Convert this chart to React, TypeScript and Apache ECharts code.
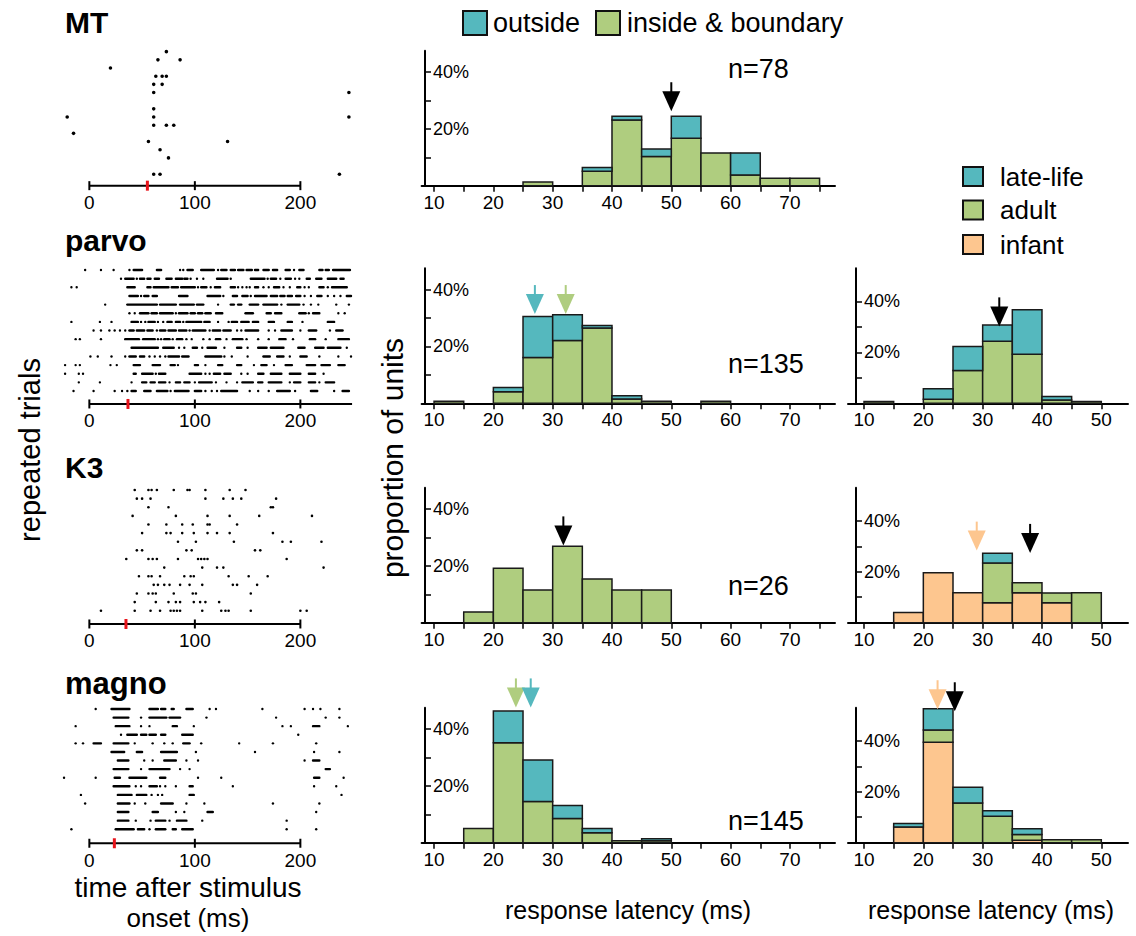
import React, { useEffect, useRef } from "react";
import * as echarts from "echarts";

const FONT = "'Liberation Sans', Arial, Helvetica, sans-serif";
const TEAL = "#55b8be";
const GREEN = "#afcd7f";
const ORANGE = "#fdc68f";
const RED = "#e8141b";

// ---------- histogram data (percent of units per 5 ms bin) ----------
const midBins = [10, 15, 20, 25, 30, 35, 40, 45, 50, 55, 60, 65, 70];
const rightBins = [10, 15, 20, 25, 30, 35, 40, 45];
const binWidth = 5;
const midTicks = [10, 15, 20, 25, 30, 35, 40, 45, 50, 55, 60, 65, 70, 75];
const midLabels = [10, 20, 30, 40, 50, 60, 70];
const rightTicks = [10, 15, 20, 25, 30, 35, 40, 45, 50];
const rightLabels = [10, 20, 30, 40, 50];
const pctTicks = [10, 20, 30, 40];
const pctLabels = [20, 40];

const mtInside = [0, 0, 0, 1.3, 0, 5.1, 23.1, 10.3, 16.7, 11.5, 3.8, 2.6, 2.6];
const mtOutside = [0, 0, 0, 0, 0, 1.3, 1.3, 2.6, 7.7, 0, 7.7, 0, 0];
const parvoInside = [0.7, 0, 4.1, 16.1, 22.1, 26.5, 1.5, 0.7, 0, 0.7, 0, 0, 0];
const parvoOutside = [0, 0, 1.5, 14.4, 9.1, 0.9, 1.2, 0, 0, 0, 0, 0, 0];
const k3Inside = [0, 3.8, 19.2, 11.5, 26.9, 15.4, 11.5, 11.5, 0, 0, 0, 0, 0];
const k3Outside = [0, 0, 0, 0, 0, 0, 0, 0, 0, 0, 0, 0, 0];
const magnoInside = [0, 5.0, 35.2, 14.5, 8.5, 3.5, 0.7, 0.7, 0, 0, 0, 0, 0];
const magnoOutside = [0, 0, 11.1, 14.6, 4.6, 1.5, 0, 0.7, 0, 0, 0, 0, 0];

const parvoInfant = [0, 0, 0, 0, 0, 0, 0, 0];
const parvoAdult = [0.7, 0, 1.6, 12.9, 24.4, 19.3, 1.3, 0.7];
const parvoLate = [0, 0, 4.1, 9.4, 6.3, 17.4, 1.4, 0];
const k3Infant = [0, 4.0, 19.6, 11.8, 7.8, 11.8, 7.8, 0];
const k3Adult = [0, 0, 0, 0, 15.6, 3.9, 3.9, 11.8];
const k3Late = [0, 0, 0, 0, 3.9, 0, 0, 0];
const magnoInfant = [0, 6.2, 39.4, 0, 0, 1.0, 0, 0];
const magnoAdult = [0, 0, 4.8, 15.6, 10.4, 2.2, 1.2, 1.2];
const magnoLate = [0, 1.3, 8.4, 6.2, 2.1, 2.3, 0, 0];

// median-latency arrows: [latency ms, arrow tip (%), group]
const mtArrows: [number, number, string][] = [[50, 26.2, "all"]];
const parvoArrows: [number, number, string][] = [[27.0, 31.4, "outside"], [32.2, 31.4, "inside"]];
const k3Arrows: [number, number, string][] = [[31.8, 27.2, "all"]];
const magnoArrows: [number, number, string][] = [[23.8, 47.6, "inside"], [26.3, 47.6, "outside"]];
const parvoAgeArrows: [number, number, string][] = [[32.8, 30.2, "all"]];
const k3AgeArrows: [number, number, string][] = [[29.0, 28.3, "infant"], [38.0, 27.4, "all"]];
const magnoAgeArrows: [number, number, string][] = [[22.4, 52.4, "infant"], [25.3, 51.6, "all"]];

const mtN = "n=78";
const parvoN = "n=135";
const k3N = "n=26";
const magnoN = "n=145";

// ---------- raster data (spike times in ms; [a,b] = burst) top trial first ----------
type Entry = number | [number, number];
const mtTrials: Entry[][] = [
  [73], [65, 86], [20], [63, 69, 73], [61, 69], [61, 246], [], [61],
  [-21, 61, 246], [61, 73, 80], [-15], [56, 131], [67], [75], [], [61, 67, 237],
];
const parvoTrials: Entry[][] = [
  [-4, 11, 23, 38, [42, 50], [64, 68], 86, 89, [93, 98], [106, 118], 122, [125, 130], [134, 138], [141, 146], [149, 154], [157, 160], [165, 170], [174, 178], [186, 190], 194, [199, 203], [218, 221], [224, 227], [231, 247]],
  [30, [34, 42], 45, [48, 52], [55, 58], [62, 66], [73, 78], [82, 88], [90, 93], 96, 102, 108, [121, 131], 134, [153, 166], 169, [172, 177], 181, [186, 191], 195, 199, [206, 209], [215, 220], [226, 234], [238, 241]],
  [-17, -12, [36, 43], [55, 58], [61, 75], [78, 84], [87, 100], 103, [106, 111], 115, [119, 124], [134, 138], 141, 145, 149, 152, [157, 160], 165, 170, [175, 180], 184, 190, [197, 200], 204, 208, [218, 222], 226, [230, 244]],
  [[38, 46], 49, [52, 56], [60, 64], [85, 93], [112, 124], 127, [136, 140], [145, 150], 153, [157, 168], [172, 178], [181, 185], [188, 192], [196, 200], 204, 210, [216, 220], 226, 232, 238, [244, 248]],
  [15, [36, 64], [67, 82], [86, 99], [102, 108], 122, [134, 137], [141, 144], [152, 160], [165, 178], 182, [188, 199], 203, 210, 217, 234, 246],
  [38, 43, [48, 56], [59, 64], [67, 79], 82, [85, 93], [96, 100], [103, 107], [110, 115], [120, 126], [148, 155], [168, 172], [176, 182], [199, 205], 208, [212, 218], 236, 242],
  [-17, 10, 21, [40, 46], 49, 53, [56, 62], 65, 70, [74, 78], [82, 86], 89, [92, 106], [109, 114], 122, 132, [135, 140], [144, 151], [155, 160], [170, 175], [188, 192], 202, [226, 232]],
  [4, 11, 19, 24, 29, 34, [38, 42], [45, 52], [55, 60], 64, [67, 72], [75, 82], [85, 92], 95, [98, 110], 114, [117, 124], [127, 134], 140, 144, [148, 160], 170, 176, [182, 192], 200, [208, 215], 228, [234, 240]],
  [-13, -9, 11, [34, 47], [51, 62], 65, 68, [71, 76], 79, [83, 88], 92, 97, 108, 114, [120, 124], 130, [136, 145], 149, 160, 170, [180, 186], 193, [209, 214], 224, [236, 246]],
  [[40, 65], [70, 80], 85, 90, [98, 102], 107, [112, 120], 128, [140, 144], 150, [160, 168], [172, 184], [198, 204], [214, 222], [226, 238], 244],
  [1, 8, 21, 34, [38, 44], [48, 52], 57, 62, 67, 72, [75, 85], [88, 94], [110, 125], 128, 135, 150, [165, 171], [178, 184], 190, [200, 206], 218, 236, 248],
  [-23, -13, -9, 20, 26, [42, 48], [60, 67], [77, 81], 84, [100, 103], 110, [122, 126], [140, 144], 156, [163, 168], 175, [186, 192], [206, 214], [220, 228], [236, 242]],
  [-23, -10, -6, [42, 44], [50, 60], 63, [66, 72], [95, 106], 110, 114, [118, 124], [128, 134], 144, 150, [160, 165], [172, 182], [190, 200], [208, 214], 222],
  [-10, 10, 40, [50, 54], [58, 62], [66, 72], 76, [82, 86], [90, 95], 100, [104, 116], 120, 130, 140, [145, 155], [160, 164], [170, 182], 190, [194, 200], [208, 214], 218, [224, 232]],
  [-15, 4, 24, 31, 36, [40, 44], [52, 58], [64, 74], 77, [81, 94], [100, 106], 110, 116, 121, [125, 140], 152, 160, 170, [178, 190], 195, [210, 216], 232, [240, 246]],
];
const k3Trials: Entry[][] = [
  [43, 56, 59, 64, 80, 93, 95, 110, 133, 148],
  [45, 50, 58, 110, 127, 136, 144, 177],
  [56, 75, 172, 174],
  [41, 82, 112, 133, 161, 211],
  [56, 73, 88, 98, 112, 114, 140],
  [50, 73, 77, 88, 99, 112, 121, 133, 174],
  [84, 101, 137, 183, 191, 220],
  [45, 50, 92, 97, 157, 162],
  [35, 56, 60, 64, 84, 103, 106, 109, 112, 187],
  [71, 107, 121, 127, 222],
  [47, 56, 59, 67, 90, 96, 99, 132, 151, 169],
  [61, 65, 71, 76, 86, 95, 107, 136, 140, 159],
  [45, 56, 60, 63, 80, 98, 101, 153],
  [43, 63, 75, 82, 86, 99, 105, 110, 123],
  [11, 43, 58, 67, 77, 80, 83, 86, 107, 125, 129, 132, 153, 200, 206],
];
const magnoTrials: Entry[][] = [
  [6, [21, 38], [57, 65], [68, 72], [78, 80], [92, 98], 114, 120, 164, 204, 212, 219, 237],
  [[23, 37], 49, [57, 73], [76, 86], 111, 177, 224, 237],
  [-13, [25, 38], 49, 57, [79, 83], 99, 183, 191, [212, 218], 245],
  [30, [36, 45], [49, 54], [57, 63], [68, 72], [88, 98], 198],
  [-13, -6, [4, 11], [23, 37], 43, 60, 71, 79, [89, 95], 106, 142, 174, 215],
  [[21, 33], [45, 50], [68, 83], 101, 157, 213, 237],
  [[27, 37], 52, 60, [71, 82], 92, 103, 204, [212, 218]],
  [[23, 37], 49, [57, 76], 86, 95, [224, 228]],
  [-24, 6, [24, 29], [38, 54], [67, 72], 103, 125, [213, 218], 241],
  [[23, 38], 44, 49, [57, 64], 67, 72, 82, [95, 98], 136, 213, 234],
  [-8, [27, 40], [45, 54], 59, 65, 69, [95, 99], 239],
  [-4, [27, 38], 43, 53, [68, 79], 92, 109, 174, 218],
  [[27, 37], [60, 65], 82, 90, [112, 117], 215],
  [[27, 37], 44, 58, [63, 72], 76, [83, 92], 107, 187],
  [-17, [25, 42], [46, 52], 57, [63, 72], [79, 82], [88, 98], 187, 215],
];
const rasterTicks = [0, 100, 200];
const mtLatency = 55;
const parvoLatency = 36.6;
const k3Latency = 34.7;
const magnoLatency = 23.7;
const mtAxisEnd = 200;
const parvoAxisEnd = 249;
const k3AxisEnd = 200;
const magnoAxisEnd = 200;

// ---------- layout ----------
const RASTER_X = { left: 57.7, width: 300.7, min: -30, max: 255 };
const MID_X = { left: 421.6, width: 413.4, min: 7.9, max: 77.6, ymax: 47.5, yOffset: -3.4 };
const RIGHT_X = { left: 848, width: 280, min: 7.3, max: 54.5, ymax: 53, yOffset: -8 };
const HIST_H = 135;

const groupColor: Record<string, string> = {
  all: "#000000", outside: TEAL, inside: GREEN, infant: ORANGE,
};

export default function App() {
  const ref = useRef<HTMLDivElement>(null);
  useEffect(() => {
    if (!ref.current) return;
    const chart = echarts.init(ref.current, undefined, { renderer: "svg" });

    const grid: any[] = [];
    const xAxis: any[] = [];
    const yAxis: any[] = [];
    const series: any[] = [];

    // ----- rasters -----
    const rasters = [
      { trials: mtTrials, top: 43.5, rowPx: 8.17, bar: -1.4, r: 1.8, lat: mtLatency, end: mtAxisEnd },
      { trials: parvoTrials, top: 261.4, rowPx: 8.64, bar: -1.5, r: 1.2, lat: parvoLatency, end: parvoAxisEnd },
      { trials: k3Trials, top: 481.4, rowPx: 8.62, bar: -1.54, r: 1.3, lat: k3Latency, end: k3AxisEnd },
      { trials: magnoTrials, top: 700.4, rowPx: 8.59, bar: -1.63, r: 1.2, lat: magnoLatency, end: magnoAxisEnd },
    ];
    rasters.forEach((R) => {
      const n = R.trials.length;
      const gi = grid.length;
      grid.push({ left: RASTER_X.left, width: RASTER_X.width, top: R.top, height: (n + 3) * R.rowPx });
      xAxis.push({ gridIndex: gi, type: "value", min: RASTER_X.min, max: RASTER_X.max, show: false });
      yAxis.push({ gridIndex: gi, type: "value", min: -3, max: n, show: false });
      const data: number[][] = [];
      R.trials.forEach((row, i) => {
        const rowIdx = n - 1 - i;
        row.forEach((e) => {
          if (Array.isArray(e)) data.push([e[0], rowIdx, e[1]]);
          else data.push([e, rowIdx, e]);
        });
      });
      const rr = R.r;
      series.push({
        type: "custom", xAxisIndex: gi, yAxisIndex: gi, clip: false, silent: true,
        data,
        renderItem: (params: any, api: any) => {
          const a = api.coord([api.value(0), api.value(1)]);
          const b = api.coord([api.value(2), api.value(1)]);
          return {
            type: "rect",
            shape: { x: a[0] - rr, y: a[1] - rr, width: b[0] - a[0] + 2 * rr, height: 2 * rr, r: rr },
            style: { fill: "#000" },
          };
        },
      });
      series.push({
        type: "line", xAxisIndex: gi, yAxisIndex: gi, silent: true, symbol: "none",
        data: [[0, R.bar], [R.end, R.bar]],
        lineStyle: { color: "#000", width: 2 },
      });
      series.push({
        type: "scatter", xAxisIndex: gi, yAxisIndex: gi, silent: true,
        symbol: "rect", symbolSize: [2, 9],
        itemStyle: { color: "#000", opacity: 1 },
        data: rasterTicks.map((t) => [t, R.bar]),
        label: {
          show: true, position: "bottom", distance: 3,
          formatter: (p: any) => String(p.value[0]),
          fontSize: 19, fontFamily: FONT, color: "#000", opacity: 1,
        },
      });
      series.push({
        type: "scatter", xAxisIndex: gi, yAxisIndex: gi, silent: true,
        symbol: "rect", symbolSize: [3, 10], z: 5,
        itemStyle: { color: RED, opacity: 1 },
        data: [[R.lat, R.bar]],
      });
    });

    // ----- histograms -----
    const addHist = (
      X: any, base: number, bins: number[], ticks: number[], labels: number[],
      layers: { values: number[]; color: string }[], arrows: [number, number, string][],
    ) => {
      const gi = grid.length;
      grid.push({ left: X.left, width: X.width, top: base - HIST_H, height: HIST_H });
      xAxis.push({
        gridIndex: gi, type: "value", min: X.min, max: X.max,
        axisLine: { show: true, onZero: false, lineStyle: { color: "#000", width: 2 } },
        axisTick: { show: true, inside: false, length: 6, customValues: ticks, lineStyle: { color: "#000", width: 1.5 } },
        axisLabel: { show: true, customValues: labels, color: "#000", fontSize: 19, fontFamily: FONT, margin: 7 },
        splitLine: { show: false },
      });
      yAxis.push({
        gridIndex: gi, type: "value", min: 0, max: X.ymax, offset: X.yOffset,
        axisLine: { show: true, onZero: false, lineStyle: { color: "#000", width: 2 } },
        axisTick: { show: true, inside: true, length: 6, customValues: pctTicks, lineStyle: { color: "#000", width: 1.5 } },
        axisLabel: { show: true, inside: true, margin: 8, customValues: pctLabels, formatter: "{value}%", color: "#000", fontSize: 18, fontFamily: FONT },
        splitLine: { show: false },
      });
      const cum = bins.map(() => 0);
      layers.forEach((L) => {
        const data: number[][] = [];
        bins.forEach((b, i) => {
          const v = L.values[i];
          if (v > 0) data.push([b, cum[i] + v, b + binWidth, cum[i]]);
          cum[i] += v;
        });
        const color = L.color;
        series.push({
          type: "custom", xAxisIndex: gi, yAxisIndex: gi, clip: false, silent: true,
          data,
          renderItem: (params: any, api: any) => {
            const a = api.coord([api.value(0), api.value(1)]);
            const b = api.coord([api.value(2), api.value(3)]);
            return {
              type: "rect",
              shape: { x: a[0], y: a[1], width: b[0] - a[0], height: b[1] - a[1] },
              style: { fill: color, stroke: "#1a1a1a", lineWidth: 1.5 },
            };
          },
        });
      });
      series.push({
        type: "custom", xAxisIndex: gi, yAxisIndex: gi, clip: false, silent: true, z: 10,
        data: arrows.map((a) => ({ value: [a[0], a[1]], itemStyle: { color: groupColor[a[2]] } })),
        renderItem: (params: any, api: any) => {
          const p = api.coord([api.value(0), api.value(1)]);
          const c = api.visual("color");
          return {
            type: "group",
            children: [
              { type: "polygon", shape: { points: [[p[0] - 9, p[1] - 20], [p[0] + 9, p[1] - 20], [p[0], p[1]]] }, style: { fill: c } },
              { type: "rect", shape: { x: p[0] - 1, y: p[1] - 29, width: 2, height: 10 }, style: { fill: c } },
            ],
          };
        },
      });
    };

    addHist(MID_X, 185.7, midBins, midTicks, midLabels,
      [{ values: mtInside, color: GREEN }, { values: mtOutside, color: TEAL }], mtArrows);
    addHist(MID_X, 403.3, midBins, midTicks, midLabels,
      [{ values: parvoInside, color: GREEN }, { values: parvoOutside, color: TEAL }], parvoArrows);
    addHist(MID_X, 622.7, midBins, midTicks, midLabels,
      [{ values: k3Inside, color: GREEN }, { values: k3Outside, color: TEAL }], k3Arrows);
    addHist(MID_X, 842.7, midBins, midTicks, midLabels,
      [{ values: magnoInside, color: GREEN }, { values: magnoOutside, color: TEAL }], magnoArrows);
    addHist(RIGHT_X, 403.3, rightBins, rightTicks, rightLabels,
      [{ values: parvoInfant, color: ORANGE }, { values: parvoAdult, color: GREEN }, { values: parvoLate, color: TEAL }], parvoAgeArrows);
    addHist(RIGHT_X, 622.7, rightBins, rightTicks, rightLabels,
      [{ values: k3Infant, color: ORANGE }, { values: k3Adult, color: GREEN }, { values: k3Late, color: TEAL }], k3AgeArrows);
    addHist(RIGHT_X, 842.7, rightBins, rightTicks, rightLabels,
      [{ values: magnoInfant, color: ORANGE }, { values: magnoAdult, color: GREEN }, { values: magnoLate, color: TEAL }], magnoAgeArrows);

    // ----- texts & legends -----
    const txt = (text: string, x: number, y: number, fs: number, o: any = {}) => ({
      type: "text", x, y, rotation: o.rot || 0, silent: true,
      style: {
        text, fontSize: fs, fontFamily: FONT, fill: "#000",
        fontWeight: o.bold ? "bold" : "normal",
        align: o.align || "left", verticalAlign: "middle",
      },
    });
    const box = (x: number, y: number, w: number, h: number, fill: string) => ({
      type: "rect", silent: true, shape: { x, y, width: w, height: h },
      style: { fill, stroke: "#111", lineWidth: 2 },
    });

    const graphic: any[] = [
      txt("MT", 65, 22.5, 30, { bold: true }),
      txt("parvo", 65, 240.5, 30, { bold: true }),
      txt("K3", 65, 467, 30, { bold: true }),
      txt("magno", 65, 683, 31, { bold: true }),
      txt("repeated trials", 30, 450, 29, { rot: Math.PI / 2, align: "center" }),
      txt("time after stimulus", 188, 887, 28, { align: "center" }),
      txt("onset (ms)", 188, 918, 26, { align: "center" }),
      txt("proportion of units", 392, 458, 30, { rot: Math.PI / 2, align: "center" }),
      txt("response latency (ms)", 628, 910, 25, { align: "center" }),
      txt("response latency (ms)", 991, 910, 25, { align: "center" }),
      txt(mtN, 728, 69, 27),
      txt(parvoN, 728, 363.5, 27),
      txt(k3N, 728, 586, 27),
      txt(magnoN, 728, 821, 27),
      box(463, 11, 24, 24, TEAL),
      txt("outside", 493, 23, 27),
      box(596, 11, 24, 24, GREEN),
      txt("inside & boundary", 627, 23, 27),
      box(963, 167, 20, 19, TEAL),
      txt("late-life", 1000, 176.5, 26),
      box(963, 200.5, 20, 19, GREEN),
      txt("adult", 1000, 210, 26),
      box(963, 235, 20, 19, ORANGE),
      txt("infant", 1000, 244.5, 26),
    ];

    chart.setOption({
      animation: false,
      backgroundColor: "#ffffff",
      grid, xAxis, yAxis, series, graphic,
    });
    return () => chart.dispose();
  }, []);

  return (
    <div
      ref={ref}
      style={{ position: "absolute", left: 0, top: 0, width: 1136, height: 936, background: "#fff" }}
    />
  );
}
